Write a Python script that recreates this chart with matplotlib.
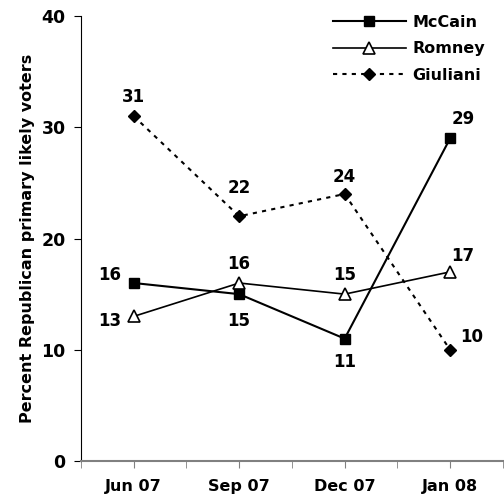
import matplotlib
matplotlib.use("Agg")
import matplotlib.pyplot as plt

months = ["Jun 07", "Sep 07", "Dec 07", "Jan 08"]
mccain = [16, 15, 11, 29]
romney = [13, 16, 15, 17]
giuliani = [31, 22, 24, 10]
y_ticks = [0, 10, 20, 30, 40]

plt.rcParams["font.family"] = ["DejaVu Sans"]
W = "bold"

fig = plt.figure(figsize=(5.04, 4.97), dpi=100)
ax = fig.add_axes([0.1607, 0.0724, 0.837, 0.8954])

x = list(range(len(months)))
ax.plot(x, mccain, color="black", lw=1.5, marker="s", ms=7, mfc="black",
        mec="black", label="McCain", zorder=3)
ax.plot(x, romney, color="black", lw=1.2, marker="^", ms=8.5, mfc="white",
        mec="black", mew=1.2, label="Romney", zorder=3)
ax.plot(x, giuliani, color="black", lw=1.5, ls=(0, (2, 2.5)), marker="D", ms=6.5,
        mfc="black", mec="black", label="Giuliani", zorder=3)

fs = 12

def label(xi, yi, dx, dy, ha="center"):
    ax.annotate(f"{yi}", (xi, yi), xytext=(dx, dy), textcoords="offset points",
                ha=ha, va="center", fontsize=fs, fontweight=W)

# McCain
label(0, mccain[0], -9, 6, "right")
label(1, mccain[1], 0, -19)
label(2, mccain[2], 0, -17)
label(3, mccain[3], 1, 14, "left")
# Romney
label(0, romney[0], -9, -3.5, "right")
label(1, romney[1], 0, 14)
label(2, romney[2], 0, 14)
label(3, romney[3], 1, 11.5, "left")
# Giuliani
label(0, giuliani[0], 0, 14)
label(1, giuliani[1], 0, 20)
label(2, giuliani[2], 0, 12)
label(3, giuliani[3], 7, 9, "left")

ax.set_xlim(-0.5, 3.5)
ax.set_ylim(0, 40)
ax.set_yticks(y_ticks)
ax.set_yticklabels([str(v) for v in y_ticks], fontsize=12.5, fontweight=W)
ax.set_xticks(x)
ax.set_xticklabels(months, fontsize=11.5, fontweight=W)
ax.set_xticks([i + 0.5 for i in range(-1, len(months))], minor=True)
ax.tick_params(axis="x", which="both", length=5, color="#808080", pad=8)
ax.tick_params(axis="y", length=5, color="black", pad=6)

ax.spines["top"].set_visible(False)
ax.spines["right"].set_visible(False)
ax.spines["bottom"].set_color("#808080")
ax.spines["bottom"].set_linewidth(1.5)
ax.spines["left"].set_color("black")

ax.set_ylabel("Percent Republican primary likely voters", fontsize=11.5,
              fontweight=W, labelpad=5)

leg = ax.legend(loc="upper right", bbox_to_anchor=(0.992, 1.035), frameon=False,
                handlelength=4.6, handletextpad=0.4, labelspacing=0.72,
                prop={"size": 11.5, "weight": W})

fig.savefig("out.png", dpi=100)
